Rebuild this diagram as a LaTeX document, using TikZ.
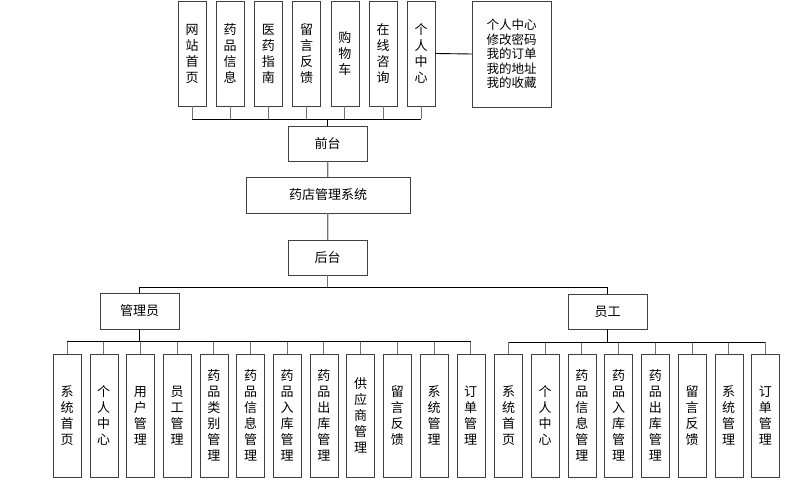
\documentclass[tikz,border=0pt]{standalone}
\usepackage{fontspec}
\setmainfont{Noto Sans CJK SC}
\usetikzlibrary{positioning}

\begin{document}
\begin{tikzpicture}[x=1pt,y=-1pt,node distance=36.7pt,
  box/.style={draw=black!75,inner sep=0pt,minimum width=79pt,minimum height=35pt,font=\fontsize{13}{16}\selectfont},
  topcol/.style={box,minimum width=28pt,minimum height=105pt,align=center},
  subcol/.style={box,minimum width=28pt,minimum height=123pt,align=center},
  stub/.style={draw=black!55,line width=0.9pt},
  bus/.style={draw=black,line width=0.9pt},
  trunk/.style={draw=black,line width=1.8pt}]
  \useasboundingbox (0,0) rectangle (801,484);

  % front end
  \begin{scope}[node distance=38.2pt]
  \node[topcol] (t1) at (192,53.5) {网\\站\\首\\页};
  \node[topcol] (t2) [right of=t1] {药\\品\\信\\息};
  \node[topcol] (t3) [right of=t2] {医\\药\\指\\南};
  \node[topcol] (t4) [right of=t3] {留\\言\\反\\馈};
  \node[topcol] (t5) [right of=t4] {购\\物\\车};
  \node[topcol] (t6) [right of=t5] {在\\线\\咨\\询};
  \node[topcol] (t7) [right of=t6] {个\\人\\中\\心};
  \end{scope}
  \node[box,minimum height=106pt,align=left,font=\fontsize{12.5}{14.6}\selectfont] (info) at (511.5,54)
    {个人中心\\修改密码\\我的订单\\我的地址\\我的收藏};

  \node[box] (front) at (327.5,143.5) {前台};
  \node[box,minimum width=164pt,minimum height=36pt] (sys) at (328,195) {药店管理系统};
  \node[box] (back) at (327.5,257.5) {后台};
  \node[box,minimum height=36pt] (admin) at (139.5,311) {管理员};
  \node[box] (staff) at (607.5,311.5) {员工};

  % admin
  \node[subcol] (a1) at (67,415.5) {系\\统\\首\\页};
  \node[subcol] (a2) [right of=a1] {个\\人\\中\\心};
  \node[subcol] (a3) [right of=a2] {用\\户\\管\\理};
  \node[subcol] (a4) [right of=a3] {员\\工\\管\\理};
  \node[subcol] (a5) [right of=a4] {药\\品\\类\\别\\管\\理};
  \node[subcol] (a6) [right of=a5] {药\\品\\信\\息\\管\\理};
  \node[subcol] (a7) [right of=a6] {药\\品\\入\\库\\管\\理};
  \node[subcol] (a8) [right of=a7] {药\\品\\出\\库\\管\\理};
  \node[subcol] (a9) [right of=a8] {供\\应\\商\\管\\理};
  \node[subcol] (a10) [right of=a9] {留\\言\\反\\馈};
  \node[subcol] (a11) [right of=a10] {系\\统\\管\\理};
  \node[subcol] (a12) [right of=a11] {订\\单\\管\\理};

  % staff
  \node[subcol] (s1) at (508.5,415.5) {系\\统\\首\\页};
  \node[subcol] (s2) [right of=s1] {个\\人\\中\\心};
  \node[subcol] (s3) [right of=s2] {药\\品\\信\\息\\管\\理};
  \node[subcol] (s4) [right of=s3] {药\\品\\入\\库\\管\\理};
  \node[subcol] (s5) [right of=s4] {药\\品\\出\\库\\管\\理};
  \node[subcol] (s6) [right of=s5] {留\\言\\反\\馈};
  \node[subcol] (s7) [right of=s6] {系\\统\\管\\理};
  \node[subcol] (s8) [right of=s7] {订\\单\\管\\理};

  \coordinate (fbus) at (0,119);
  \coordinate (rbus) at (0,287);
  \coordinate (abus) at (0,341);
  \coordinate (sbus) at (0,342);

  \foreach \n in {t1,t2,t3,t4,t5,t6,t7}
    \draw[stub] (\n.south) -- (\n.south |- fbus);
  \draw[bus] (t1.south |- fbus) -- (t7.south |- fbus);
  \draw[trunk] (front.north) -- (front.north |- fbus);
  \draw[bus] (t7.east) -- (info.west);

  \draw[stub,line width=1.3pt] (front) -- (sys);
  \draw[stub,line width=1.3pt] (sys) -- (back);
  \draw[stub,line width=1.3pt] (back.south) -- (back.south |- rbus);
  \draw[bus] (admin.north) -- (admin.north |- rbus) -- (staff.north |- rbus) -- (staff.north);

  \foreach \n in {a1,a2,a3,a4,a5,a6,a7,a8,a9,a10,a11,a12}
    \draw[stub] (\n.north) -- (\n.north |- abus);
  \draw[bus] (a1.north |- abus) -- (a12.north |- abus);
  \draw[trunk] (admin.south) -- (admin.south |- abus);

  \foreach \n in {s1,s2,s3,s4,s5,s6,s7,s8}
    \draw[stub] (\n.north) -- (\n.north |- sbus);
  \draw[bus] (s1.north |- sbus) -- (s8.north |- sbus);
  \draw[trunk] (staff.south) -- (staff.south |- sbus);
\end{tikzpicture}
\end{document}
